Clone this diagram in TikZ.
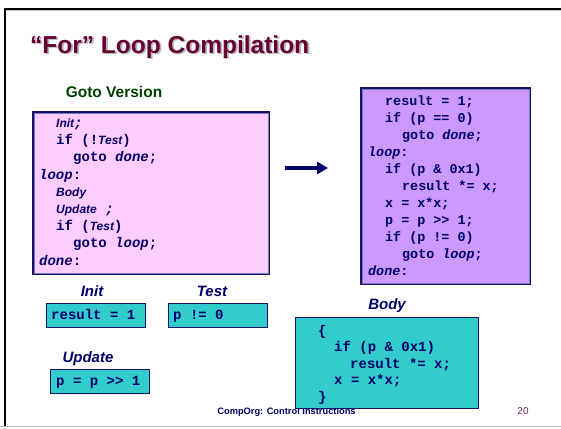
\documentclass[tikz,border=0pt]{standalone}
\usepackage{fontspec}
\setmainfont{Liberation Sans}
\newfontfamily\codefont{Liberation Mono}
\usetikzlibrary{arrows.meta}
\definecolor{txtblue}{RGB}{0,0,102}
\definecolor{titlered}{RGB}{102,0,51}
\definecolor{gotogreen}{RGB}{0,64,0}
\definecolor{pinkfill}{RGB}{255,204,255}
\definecolor{lavfill}{RGB}{204,153,255}
\definecolor{tealfill}{RGB}{51,204,204}
\definecolor{boxline}{RGB}{20,20,110}
\definecolor{innerline}{RGB}{120,120,180}
\definecolor{pagenum}{RGB}{128,40,80}
\newcommand\ilab[1]{{\rmfamily\bfseries\itshape\fontsize{12bp}{12bp}\selectfont #1}}
\newcommand\cit[1]{{\itshape #1}}
\tikzset{
  code/.style={anchor=base west, inner sep=0pt, text=txtblue, font=\codefont\bfseries\fontsize{14bp}{14bp}\selectfont},
  rcode/.style={code, font=\codefont\bfseries\fontsize{13.4bp}{13.4bp}\selectfont},
  blabel/.style={anchor=base, inner sep=0pt, text=txtblue, font=\bfseries\itshape\fontsize{15bp}{15bp}\selectfont},
  tealbox/.style={draw=boxline, line width=1.1bp, fill=tealfill, inner sep=0pt, anchor=north west},
  bigbox/.style={draw=boxline, line width=2.4bp, inner sep=0pt, anchor=north west},
  titletext/.style={anchor=base west, inner sep=0pt, font=\bfseries\fontsize{24.5bp}{24.5bp}\selectfont},
}
\begin{document}
\begin{tikzpicture}[x=1bp, y=-1bp]
\useasboundingbox[fill=white] (0,0) rectangle (561,428);
% slide frame
\draw[gray!50, line width=1bp] (0,426) -- (561,426);
\draw[gray!45, line width=1bp] (5,10.8) -- (561,10.8);
\draw[black, line width=2bp] (4.5,9) -- (561,9);
\draw[black, line width=2bp] (4.5,8) -- (4.5,426);
% title
\node[titletext, text=gray!55] (titleshadow) at (31.8,54.8) {“For” Loop Compilation};
\node[titletext, text=titlered] (title) at (30,53) {“For” Loop Compilation};
\node[anchor=base, inner sep=0pt, text=gotogreen, font=\bfseries\fontsize{15.5bp}{15.5bp}\selectfont] (gotohead) at (114,97.5) {Goto Version};
% goto box
\node[bigbox, fill=pinkfill, minimum width=236bp, minimum height=162bp] (gotobox) at (32,111) {};
\draw[innerline, line width=0.8bp] ([shift={(2bp,-2bp)}]gotobox.north west) rectangle ([shift={(-2bp,2bp)}]gotobox.south east);
\node[code] (g1) at (56,127.5) {\ilab{Init}\cit{;}};
\node[code] (g2) at (56,144.7) {if (!\ilab{Test})};
\node[code] (g3) at (73,161.9) {goto \cit{done};};
\node[code] (g4) at (39,179.1) {\cit{loop}:};
\node[code] (g5) at (56,196.3) {\ilab{Body}};
\node[code] (g6) at (56,213.5) {\ilab{Update} \cit{;}};
\node[code] (g7) at (56,230.7) {if (\ilab{Test})};
\node[code] (g8) at (73,247.9) {goto \cit{loop};};
\node[code] (g9) at (39,265.1) {\cit{done}:};
% arrow
\coordinate (arrS) at (285,168);
\coordinate (arrE) at (328,168);
\draw[txtblue, line width=3.5bp, -{Triangle[length=11bp,width=12bp]}] (arrS) -- (arrE);
% compiled box
\node[bigbox, fill=lavfill, minimum width=169bp, minimum height=196bp] (asmbox) at (360,87) {};
\draw[innerline, line width=0.8bp] ([shift={(2bp,-2bp)}]asmbox.north west) rectangle ([shift={(-2bp,2bp)}]asmbox.south east);
\node[rcode] (r1) at (385,105.5) {result = 1;};
\node[rcode] (r2) at (385,122.5) {if (p == 0)};
\node[rcode] (r3) at (402,139.5) {goto \cit{done};};
\node[rcode] (r4) at (368,156.5) {\cit{loop}:};
\node[rcode] (r5) at (385,173.5) {if (p \& 0x1)};
\node[rcode] (r6) at (402,190.5) {result *= x;};
\node[rcode] (r7) at (385,207.5) {x = x*x;};
\node[rcode] (r8) at (385,224.5) {p = p >{}> 1;};
\node[rcode] (r9) at (385,241.5) {if (p != 0)};
\node[rcode] (r10) at (402,258.5) {goto \cit{loop};};
\node[rcode] (r11) at (368,275.5) {\cit{done}:};
% footer
\node[anchor=base, inner sep=0pt, text=txtblue, font=\bfseries\fontsize{9.3bp}{9.3bp}\selectfont] (footer) at (286.5,414) {CompOrg: Control Instructions};
\node[anchor=base, inner sep=0pt, text=pagenum, font=\fontsize{10bp}{10bp}\selectfont] (pagenr) at (523,414) {20};
% labels and small boxes
\node[blabel] (initlab) at (92,296) {Init};
\node[blabel] (testlab) at (212,296) {Test};
\node[blabel] (updlab) at (88,362) {Update};
\node[blabel] (bodylab) at (387,309) {Body};
\node[tealbox, minimum width=99bp, minimum height=24bp] (initbox) at (46,303) {};
\node[code] (initcode) at (51,319.5) {result = 1};
\node[tealbox, minimum width=99bp, minimum height=24bp] (testbox) at (168,303) {};
\node[code] (testcode) at (173,319.5) {p != 0};
\node[tealbox, minimum width=99bp, minimum height=24bp] (updbox) at (50,369) {};
\node[code] (updcode) at (56,385.5) {p = p >{}> 1};
\node[tealbox, minimum width=183bp, minimum height=91bp] (bodybox) at (295,317) {};
\node[code] (b1) at (318,335.5) {\{};
\node[code] (b2) at (334,351.5) {if (p \& 0x1)};
\node[code] (b3) at (350,368) {result *= x;};
\node[code] (b4) at (334,384.5) {x = x*x;};
\node[code] (b5) at (318,401) {\}};
\end{tikzpicture}
\end{document}
